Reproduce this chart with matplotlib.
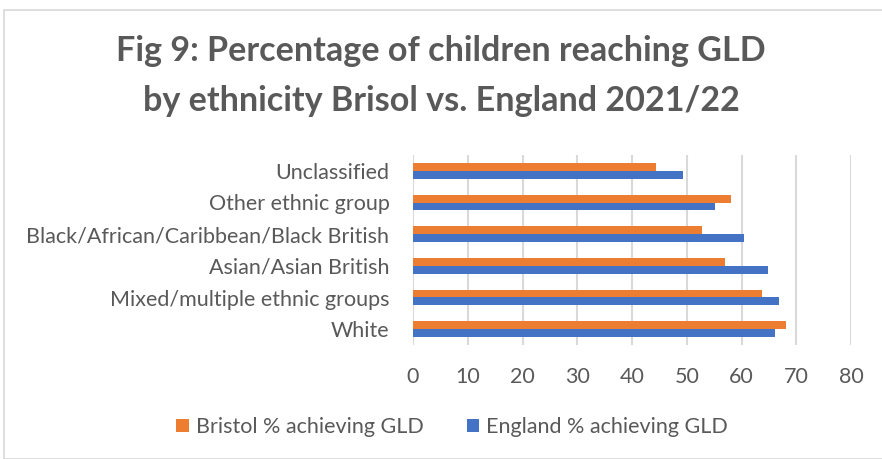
import matplotlib
matplotlib.use("Agg")
import matplotlib.pyplot as plt
import numpy as np
from matplotlib.patches import Rectangle

categories = ["White", "Mixed/multiple ethnic groups", "Asian/Asian British",
              "Black/African/Caribbean/Black British", "Other ethnic group", "Unclassified"]
bristol = [68.1, 63.8, 56.9, 52.8, 58.0, 44.3]
england = [66.2, 66.9, 64.8, 60.5, 55.2, 49.4]
xticks = [0, 10, 20, 30, 40, 50, 60, 70, 80]

plt.rcParams['font.family'] = ['Lato', 'DejaVu Sans']
gray = "#595959"

fig = plt.figure(figsize=(8.82, 4.59), dpi=100)
ax = fig.add_axes([413/882, 1-345/459, (851-413)/882, 190/459])

y = np.arange(len(categories))
h = 0.25
ax.barh(y + h/2, bristol, height=h, color="#ED7D31", label="Bristol % achieving GLD", zorder=3)
ax.barh(y - h/2, england, height=h, color="#4472C4", label="England % achieving GLD", zorder=3)

ax.set_xlim(0, 80)
ax.set_ylim(-0.5, len(categories) - 0.5)
ax.set_xticks(xticks)
ax.set_xticklabels([str(t) for t in xticks], fontsize=15.5, color=gray)
ax.set_yticks(y)
ax.set_yticklabels(categories, fontsize=15.5, color=gray)
ax.tick_params(length=0)
ax.tick_params(axis='x', pad=16)
ax.tick_params(axis='y', pad=17)
ax.grid(axis='x', color="#D9D9D9", linewidth=1.5, zorder=0)
for s in ax.spines.values():
    s.set_visible(False)

fig.text(0.5, 1-51/459, "Fig 9: Percentage of children reaching GLD", ha='center', va='center',
         fontsize=24.6, fontweight='bold', color=gray)
fig.text(0.5, 1-101/459, "by ethnicity Brisol vs. England 2021/22", ha='center', va='center',
         fontsize=24.6, fontweight='bold', color=gray)

leg = fig.legend(loc='center', bbox_to_anchor=(452/882, 1-427/459), ncol=2, frameon=False,
                 fontsize=15.5, handlelength=0.6, handleheight=0.6, columnspacing=2.0,
                 handletextpad=0.3)
for t in leg.get_texts():
    t.set_color(gray)

fig.patches.append(Rectangle((4/882, 0), 1, 1-10/459, transform=fig.transFigure,
                             fill=False, edgecolor="#D9D9D9", linewidth=1.2))

fig.savefig("out.png", dpi=100)
